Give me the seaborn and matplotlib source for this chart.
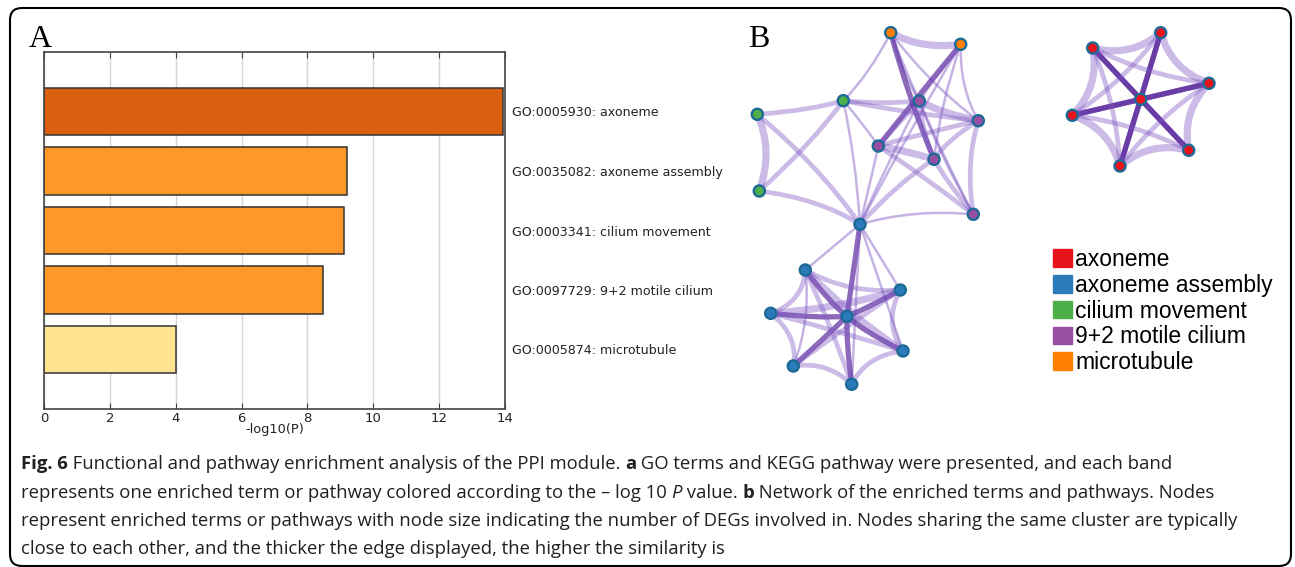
import matplotlib
matplotlib.use("Agg")
import matplotlib.pyplot as plt
import seaborn as sns
from matplotlib.path import Path
from matplotlib.patches import PathPatch, Patch, FancyBboxPatch
from matplotlib.transforms import IdentityTransform

# ---- panel A data
terms = ["GO:0005930: axoneme", "GO:0035082: axoneme assembly", "GO:0003341: cilium movement",
         "GO:0097729: 9+2 motile cilium", "GO:0005874: microtubule"]
neg_log_p = [13.95, 9.2, 9.1, 8.48, 4.0]
bar_colors = ["#d95f0e", "#fe9929", "#fe9929", "#fe9929", "#fee391"]
x_ticks = [0, 2, 4, 6, 8, 10, 12, 14]

# ---- panel B data (node positions, in pixels)
net_terms = ["axoneme", "axoneme assembly", "cilium movement", "9+2 motile cilium", "microtubule"]
net_colors = ["#e8141c", "#2b7bba", "#4daf4a", "#984ea3", "#ff7f00"]
node_x = [890.7, 960.7, 843.3, 757.3, 759.3, 919.3, 978.3, 878.3, 934.0, 973.3, 860.0,
          805.3, 900.3, 770.7, 847.0, 903.0, 793.3, 851.7,
          1160.7, 1092.7, 1209.0, 1140.7, 1072.3, 1188.7, 1120.0]
node_y = [32.7, 44.3, 100.7, 114.3, 191.0, 101.0, 120.7, 146.0, 159.3, 214.3, 224.3,
          270.0, 290.0, 313.3, 316.3, 351.0, 366.0, 384.3,
          32.7, 48.0, 83.3, 99.3, 115.3, 150.3, 166.0]
node_term = (["microtubule"] * 2 + ["cilium movement"] * 3 + ["9+2 motile cilium"] * 5
             + ["axoneme assembly"] * 8 + ["axoneme"] * 7)
node_cluster = [0] * 11 + [1] * 7 + [2] * 7
# (node a, node b, similarity level 1..4)
edges = [(0, 1, 3), (0, 2, 1), (0, 5, 1), (0, 8, 4), (0, 9, 1), (0, 6, 1),
         (1, 7, 4), (1, 6, 1), (1, 8, 1), (1, 5, 1), (1, 10, 1),
         (2, 3, 2), (2, 4, 2), (2, 5, 2), (2, 6, 2), (2, 7, 1), (2, 10, 1),
         (3, 4, 3), (3, 10, 2), (4, 10, 2),
         (5, 6, 3), (5, 7, 2), (5, 8, 2), (5, 9, 1), (5, 10, 1),
         (6, 7, 2), (6, 8, 2), (6, 9, 2), (7, 8, 3), (7, 9, 2), (7, 10, 1),
         (8, 9, 2), (8, 10, 2), (9, 10, 1),
         (10, 11, 1), (10, 14, 4), (10, 12, 1), (10, 15, 1), (10, 17, 1),
         (14, 11, 4), (14, 12, 4), (14, 13, 4), (14, 15, 4), (14, 16, 4), (14, 17, 4),
         (11, 13, 2), (13, 16, 2), (16, 17, 2), (17, 15, 2), (15, 12, 2), (11, 12, 2),
         (11, 15, 3), (13, 12, 3), (16, 12, 2), (11, 17, 2), (13, 15, 2), (16, 11, 1),
         (21, 18, 4), (21, 19, 4), (21, 20, 4), (21, 22, 4), (21, 23, 4), (21, 24, 4),
         (18, 19, 3), (18, 20, 3), (20, 23, 3), (23, 24, 3), (24, 22, 3), (22, 19, 3),
         (18, 24, 4), (19, 23, 4), (22, 20, 4),
         (19, 20, 2), (22, 18, 2), (22, 23, 2), (24, 20, 2), (19, 24, 2)]

caption = [
    [("Fig. 6", "b"), (" Functional and pathway enrichment analysis of the PPI module. ", "n"), ("a", "b"),
     (" GO terms and KEGG pathway were presented, and each band", "n")],
    [("represents one enriched term or pathway colored according to the \u2013 log 10 ", "n"), ("P", "i"),
     (" value. ", "n"), ("b", "b"), (" Network of the enriched terms and pathways. Nodes", "n")],
    [("represent enriched terms or pathways with node size indicating the number of DEGs involved in. "
      "Nodes sharing the same cluster are typically", "n")],
    [("close to each other, and the thicker the edge displayed, the higher the similarity is", "n")],
]

W, H = 1295, 567
fig = plt.figure(figsize=(W / 100, H / 100), dpi=100)


def fx(px):
    return px / W


def fy(py):
    return 1 - py / H


# ---------------- panel A
axA = fig.add_axes([fx(44), fy(409), (505 - 44) / W, (409 - 52) / H])
sns.barplot(x=neg_log_p, y=terms, hue=terms, palette=bar_colors, orient="h", width=0.8,
            saturation=1, edgecolor="#333333", linewidth=1.1, legend=False, ax=axA)
axA.set_xlim(0, 14)
axA.set_ylim(5, -1)
axA.set_xticks(x_ticks)
axA.grid(axis="x", color="#d4d4d4", lw=1)
axA.set_axisbelow(True)
axA.yaxis.tick_right()
axA.set_yticks(range(len(terms)))
axA.set_yticklabels(terms, fontsize=9.1, color="#222222")
axA.tick_params(axis="y", length=0, pad=5)
axA.tick_params(axis="x", direction="in", top=True, length=4, labelsize=9.5,
                labelcolor="#222222", color="#444444", pad=2)
axA.set_xlabel("-log10(P)", fontsize=9.3, color="#222222", labelpad=-1)
axA.set_ylabel("")
for s in axA.spines.values():
    s.set_color("#444444")
    s.set_linewidth(1.2)

fig.text(fx(29), fy(47), "A", family="Liberation Serif", fontsize=23, va="baseline")
fig.text(fx(748), fy(47), "B", family="Liberation Serif", fontsize=23, va="baseline")

# ---------------- panel B
axB = fig.add_axes([fx(740), fy(400), 555 / W, 380 / H])
axB.set_xlim(740, 1295)
axB.set_ylim(400, 20)
axB.axis("off")

cent = {}
for c in set(node_cluster):
    idx = [i for i, k in enumerate(node_cluster) if k == c]
    cent[c] = (sum(node_x[i] for i in idx) / len(idx), sum(node_y[i] for i in idx) / len(idx))
bend = {0: 0.12, 1: 0.3, 2: 0.3}

edge_style = {1: (1.8, "#7e57c2", 0.45), 2: (3.4, "#7e57c2", 0.40),
              3: (5.2, "#7e57c2", 0.40), 4: (3.8, "#5b2a9e", 0.70)}
for a, b, w in edges:
    xa, ya, xb, yb = node_x[a], node_y[a], node_x[b], node_y[b]
    mx, my = (xa + xb) / 2, (ya + yb) / 2
    k = bend[node_cluster[a]] if node_cluster[a] == node_cluster[b] else 0.0
    cx, cy = cent[node_cluster[a]]
    ctrl = (mx + k * (cx - mx), my + k * (cy - my))
    lw, col, al = edge_style[w]
    path = Path([(xa, ya), ctrl, (xb, yb)], [Path.MOVETO, Path.CURVE3, Path.CURVE3])
    axB.add_patch(PathPatch(path, fill=False, lw=lw, edgecolor=col, alpha=al, capstyle="round", zorder=1))

sns.scatterplot(x=node_x, y=node_y, hue=node_term, hue_order=net_terms,
                palette=dict(zip(net_terms, net_colors)), s=64, edgecolor="#1d6a96",
                linewidth=1.7, legend=False, ax=axB, zorder=3)

handles = [Patch(facecolor=c, edgecolor=c) for c in net_colors]
fig.legend(handles, net_terms, loc="upper left", bbox_to_anchor=(fx(1053), fy(248)),
           frameon=False, prop={"family": "Liberation Sans", "size": 16.5},
           handlelength=0.83, handleheight=0.8, handletextpad=0.15, labelspacing=0.12,
           borderaxespad=0, borderpad=0)

# ---------------- caption
renderer = fig.canvas.get_renderer()
props = {"n": {}, "b": {"fontweight": "bold"}, "i": {"fontstyle": "italic"}}
cap_font = "Open Sans"


def advance(txt, kind, size):
    t1 = fig.text(0, 0, "|" + txt + "|", family=cap_font, fontsize=size, **props[kind])
    t2 = fig.text(0, 0, "||", family=cap_font, fontsize=size, **props[kind])
    w = t1.get_window_extent(renderer).width - t2.get_window_extent(renderer).width
    t1.remove()
    t2.remove()
    return w


# widest caption line should run from x=21 to about x=1234
widest = max(sum(advance(t, k, 10) for t, k in line) for line in caption)
cap_size = 10 * 1213 / widest

baselines = [469, 497.5, 526, 554.5]
for line, base in zip(caption, baselines):
    x = 21
    for txt, kind in line:
        fig.text(fx(x), fy(base), txt, family=cap_font, fontsize=cap_size, color="#231f20",
                 va="baseline", ha="left", **props[kind])
        x += advance(txt, kind, cap_size)

border = FancyBboxPatch((10, H - 566), 1281, 558, boxstyle="round,pad=0,rounding_size=12",
                        transform=IdentityTransform(), fill=False, edgecolor="black", lw=1.5)
fig.add_artist(border)

fig.savefig("out.png", dpi=100)
